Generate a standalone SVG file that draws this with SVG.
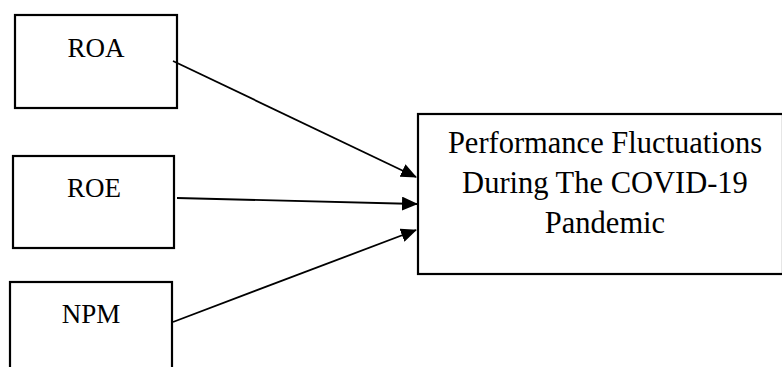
<svg xmlns="http://www.w3.org/2000/svg" width="782" height="367" viewBox="0 0 782 367">
<style>
.box{fill:#fff;stroke:#000;stroke-width:2.2}
.lbl{font-family:"Liberation Serif","Times New Roman",serif;font-size:27px;fill:#000;text-anchor:middle}
.big{font-size:30.5px}
.conn{stroke:#000;stroke-width:1.8;fill:none}
</style>
<defs>
<marker id="ah" markerWidth="16" markerHeight="14" refX="15" refY="7" orient="auto" markerUnits="userSpaceOnUse">
<path d="M0,0 L16,7 L0,14 Z" fill="#000"/>
</marker>
</defs>
<rect width="782" height="367" fill="#fff"/>
<g id="roa"><rect class="box" x="15" y="15" width="162" height="93"/><text class="lbl" x="96" y="57">ROA</text></g>
<g id="roe"><rect class="box" x="13" y="156" width="161" height="92"/><text class="lbl" x="94" y="197">ROE</text></g>
<g id="npm"><rect class="box" x="10" y="282" width="162" height="100"/><text class="lbl" x="91" y="323">NPM</text></g>
<g id="perf"><rect class="box" x="418" y="114" width="365" height="160"/>
<text class="lbl big" x="605" y="153">Performance Fluctuations</text>
<text class="lbl big" x="605" y="193">During The COVID-19</text>
<text class="lbl big" x="605" y="233">Pandemic</text></g>
<g id="connectors">
<line class="conn" x1="173" y1="61" x2="416" y2="177" marker-end="url(#ah)"/>
<line class="conn" x1="177" y1="198" x2="417" y2="204" marker-end="url(#ah)"/>
<line class="conn" x1="173" y1="322" x2="416" y2="230" marker-end="url(#ah)"/>
</g>
</svg>
